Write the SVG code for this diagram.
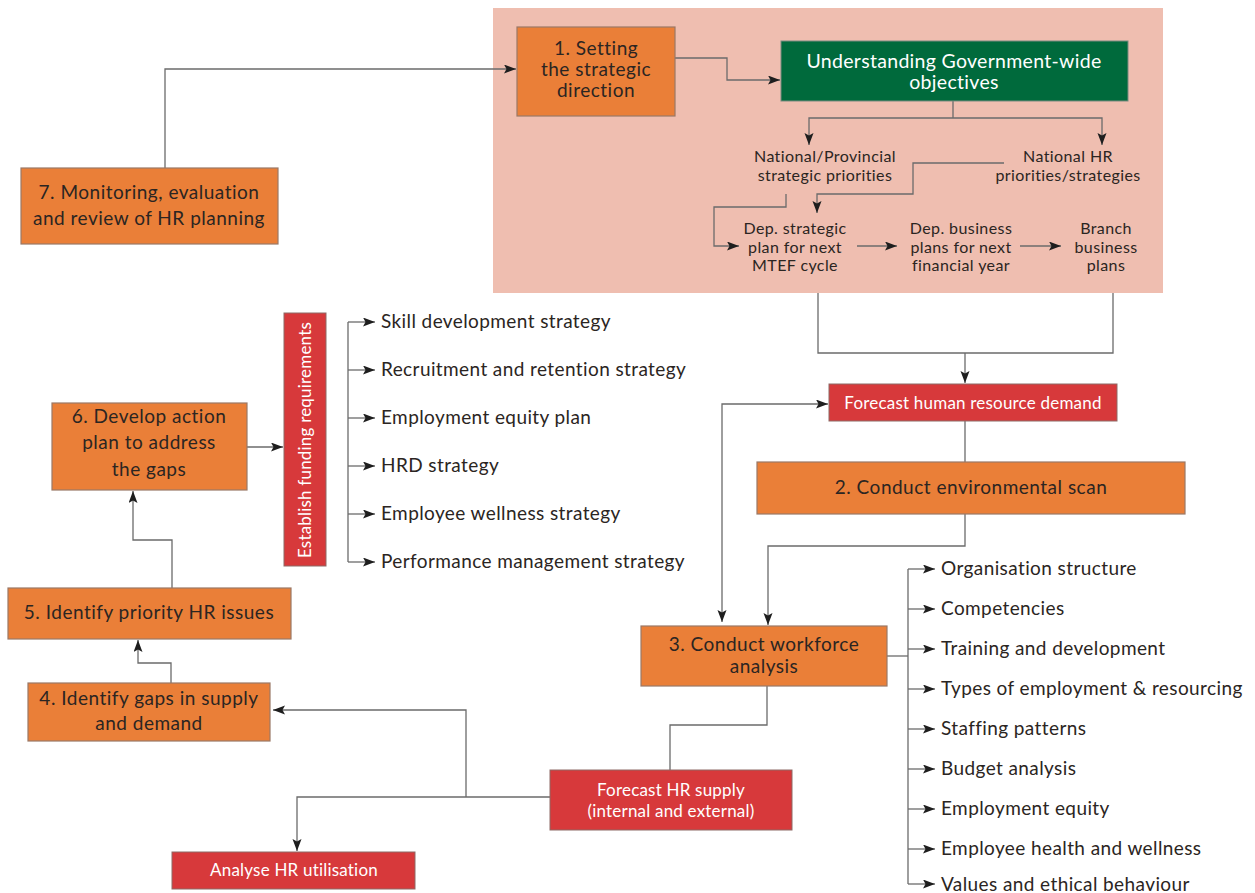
<svg xmlns="http://www.w3.org/2000/svg" width="1255" height="893" viewBox="0 0 1255 893">
<style>
text{font-family:Lato,"Open Sans","Liberation Sans",sans-serif;text-anchor:middle;fill:#2b2522}
.o{fill:#ea7f38;stroke:#9a7866;stroke-width:1.2}
.r{fill:#d7393b;stroke:#8d6a66;stroke-width:1}
.g{fill:#006a3c;stroke:#7a8a80;stroke-width:1}
.t18{font-size:19px;letter-spacing:0.5px}
.t15{font-size:16px;letter-spacing:0.4px}
.w{fill:#fff;font-size:17px;letter-spacing:0.2px}
.li{font-size:19px;letter-spacing:0.4px;text-anchor:start}
.c path{fill:none;stroke:#6b6b6b;stroke-width:1.3}
.c .a{marker-end:url(#ah)}
</style>
<defs>
<marker id="ah" markerUnits="userSpaceOnUse" markerWidth="13" markerHeight="10" refX="12" refY="4.5" orient="auto-start-reverse">
<path d="M0,0 L12,4.5 L0,9 L2.5,4.5 z" fill="#1e1e1e"/>
</marker>
</defs>
<rect width="1255" height="893" fill="#fff"/>
<rect id="bg" x="493" y="8" width="670" height="285" fill="#efbeb0"/>

<g class="c" id="connectors">
<path class="a" d="M165,168 V69 H516"/>
<path class="a" d="M675,58 H727 V80 H780"/>
<path d="M953,101 V118"/>
<path class="a" d="M953,118 H809 V145"/>
<path class="a" d="M953,118 H1102 V145"/>
<path class="a" d="M1004,163 H913 V194 H817 V213"/>
<path class="a" d="M786,194 V207 H714 V246 H739"/>
<path class="a" d="M857,246 H897"/>
<path class="a" d="M1020,246 H1061"/>
<path d="M818,293 V353 H1113 V293"/>
<path class="a" d="M965,353 V383"/>
<path d="M965,421 V462"/>
<path class="a" d="M965,514 V546 H768 V625"/>
<path class="a" d="M828,404 H722 V622" style="marker-start:url(#ah)"/>
<path d="M887,656 H908"/>
<path d="M908,569 V884"/>
<path class="a" d="M908,569 H935"/>
<path class="a" d="M908,609 H935"/>
<path class="a" d="M908,649 H935"/>
<path class="a" d="M908,689 H935"/>
<path class="a" d="M908,729 H935"/>
<path class="a" d="M908,769 H935"/>
<path class="a" d="M908,809 H935"/>
<path class="a" d="M908,849 H935"/>
<path class="a" d="M908,884 H935"/>
<path d="M767,686 V725 H670 V770"/>
<path class="a" d="M550,797 H297 V851"/>
<path class="a" d="M466,797 V710 H273"/>
<path class="a" d="M171,683 V663 H138 V640"/>
<path class="a" d="M172,588 V540 H133 V491"/>
<path class="a" d="M247,447 H283"/>
<path d="M348,322 V562"/>
<path class="a" d="M348,322 H375"/>
<path class="a" d="M348,370 H375"/>
<path class="a" d="M348,418 H375"/>
<path class="a" d="M348,466 H375"/>
<path class="a" d="M348,514 H375"/>
<path class="a" d="M348,562 H375"/>
</g>

<g id="n1"><rect class="o" x="517" y="27" width="158" height="89"/>
<text class="t18" x="596" y="55">1. Setting</text><text class="t18" x="596" y="76">the strategic</text><text class="t18" x="596" y="97">direction</text></g>
<g id="gov"><rect class="g" x="781" y="41" width="347" height="60"/>
<text x="954" y="68" style="fill:#fff;font-size:19.5px;letter-spacing:0.3px">Understanding Government-wide</text><text x="954" y="89" style="fill:#fff;font-size:19.5px;letter-spacing:0.3px">objectives</text></g>
<g id="natprov"><text class="t15" x="825" y="162">National/Provincial</text><text class="t15" x="825" y="181">strategic priorities</text></g>
<g id="nathr"><text class="t15" x="1068" y="162">National HR</text><text class="t15" x="1068" y="181">priorities/strategies</text></g>
<g id="depstrat"><text class="t15" x="795" y="234">Dep. strategic</text><text class="t15" x="795" y="253">plan for next</text><text class="t15" x="795" y="271">MTEF cycle</text></g>
<g id="depbus"><text class="t15" x="961" y="234">Dep. business</text><text class="t15" x="961" y="253">plans for next</text><text class="t15" x="961" y="271">financial year</text></g>
<g id="branch"><text class="t15" x="1106" y="234">Branch</text><text class="t15" x="1106" y="253">business</text><text class="t15" x="1106" y="271">plans</text></g>

<g id="n7"><rect class="o" x="21" y="168" width="257" height="76"/>
<text class="t18" x="149" y="199">7. Monitoring, evaluation</text><text class="t18" x="149" y="225">and review of HR planning</text></g>

<g id="demand"><rect class="r" x="829" y="384" width="288" height="37"/>
<text class="w" x="973" y="409">Forecast human resource demand</text></g>
<g id="n2"><rect class="o" x="757" y="462" width="428" height="52"/>
<text class="t18" x="971" y="494">2. Conduct environmental scan</text></g>
<g id="n3"><rect class="o" x="641" y="626" width="246" height="60"/>
<text class="t18" x="764" y="651">3. Conduct workforce</text><text class="t18" x="764" y="673">analysis</text></g>

<g id="wlist">
<text class="li" x="941" y="575">Organisation structure</text>
<text class="li" x="941" y="615">Competencies</text>
<text class="li" x="941" y="655">Training and development</text>
<text class="li" x="941" y="695">Types of employment &amp; resourcing</text>
<text class="li" x="941" y="735">Staffing patterns</text>
<text class="li" x="941" y="775">Budget analysis</text>
<text class="li" x="941" y="815">Employment equity</text>
<text class="li" x="941" y="855">Employee health and wellness</text>
<text class="li" x="941" y="891">Values and ethical behaviour</text>
</g>

<g id="supply"><rect class="r" x="550" y="770" width="242" height="60"/>
<text class="w" x="671" y="796">Forecast HR supply</text><text class="w" x="671" y="817">(internal and external)</text></g>
<g id="util"><rect class="r" x="172" y="852" width="243" height="37"/>
<text class="w" x="294" y="876">Analyse HR utilisation</text></g>

<g id="n4"><rect class="o" x="28" y="683" width="242" height="58"/>
<text class="t18" x="149" y="705">4. Identify gaps in supply</text><text class="t18" x="149" y="730">and demand</text></g>
<g id="n5"><rect class="o" x="8" y="588" width="283" height="51"/>
<text class="t18" x="149" y="619">5. Identify priority HR issues</text></g>
<g id="n6"><rect class="o" x="52" y="403" width="195" height="87"/>
<text class="t18" x="149" y="423">6. Develop action</text><text class="t18" x="149" y="449">plan to address</text><text class="t18" x="149" y="476">the gaps</text></g>

<g id="funding"><rect class="r" x="284" y="313" width="42" height="253"/>
<text class="w" transform="translate(311,440) rotate(-90)">Establish funding requirements</text></g>

<g id="slist">
<text class="li" x="381" y="328">Skill development strategy</text>
<text class="li" x="381" y="376">Recruitment and retention strategy</text>
<text class="li" x="381" y="424">Employment equity plan</text>
<text class="li" x="381" y="472">HRD strategy</text>
<text class="li" x="381" y="520">Employee wellness strategy</text>
<text class="li" x="381" y="568">Performance management strategy</text>
</g>
</svg>
